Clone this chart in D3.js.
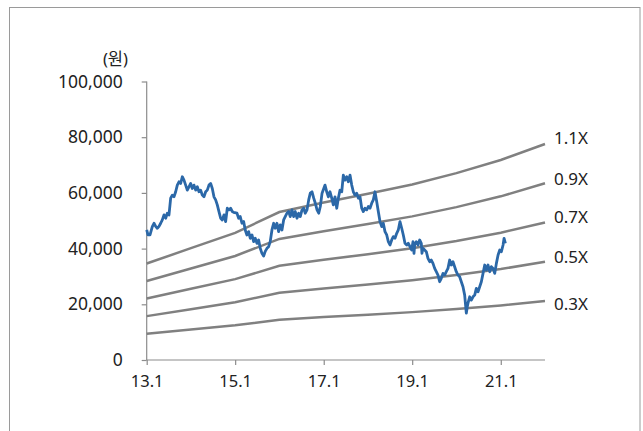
<!DOCTYPE html>
<html>
<head>
<meta charset="utf-8">
<script src="https://cdn.jsdelivr.net/npm/d3@7"></script>
<style>
  html, body { margin: 0; padding: 0; background: #fff; }
  svg { display: block; }
  text { font-family: "Noto Sans", "Noto Sans CJK KR", sans-serif; fill: #222; }
</style>
</head>
<body>
<svg id="chart" width="643" height="431"></svg>
<script>
// Share price (won), by decimal year
const priceYears = [
  2013.000, 2013.029, 2013.075, 2013.127, 2013.165, 2013.203, 2013.240, 2013.278, 2013.316, 2013.353,
  2013.391, 2013.429, 2013.466, 2013.504, 2013.542, 2013.579, 2013.617, 2013.655, 2013.692, 2013.730,
  2013.768, 2013.805, 2013.843, 2013.881, 2013.918, 2013.956, 2013.994, 2014.031, 2014.069, 2014.107,
  2014.144, 2014.182, 2014.220, 2014.257, 2014.295, 2014.333, 2014.370, 2014.408, 2014.446, 2014.483,
  2014.521, 2014.559, 2014.596, 2014.634, 2014.672, 2014.709, 2014.747, 2014.785, 2014.822, 2014.860,
  2014.898, 2014.935, 2014.966, 2015.041, 2015.079, 2015.115, 2015.154, 2015.192, 2015.228, 2015.266,
  2015.305, 2015.341, 2015.380, 2015.418, 2015.454, 2015.493, 2015.531, 2015.567, 2015.606, 2015.644,
  2015.680, 2015.719, 2015.757, 2015.793, 2015.832, 2015.870, 2015.906, 2015.945, 2015.983, 2016.019,
  2016.058, 2016.096, 2016.132, 2016.171, 2016.209, 2016.245, 2016.284, 2016.322, 2016.358, 2016.397,
  2016.435, 2016.471, 2016.510, 2016.548, 2016.584, 2016.623, 2016.661, 2016.697, 2016.736, 2016.774,
  2016.810, 2016.849, 2016.887, 2016.923, 2016.962, 2017.029, 2017.068, 2017.104, 2017.142, 2017.181,
  2017.217, 2017.255, 2017.294, 2017.330, 2017.368, 2017.407, 2017.443, 2017.481, 2017.520, 2017.556,
  2017.594, 2017.633, 2017.669, 2017.707, 2017.746, 2017.782, 2017.820, 2017.859, 2017.895, 2017.933,
  2017.972, 2018.008, 2018.046, 2018.085, 2018.121, 2018.159, 2018.198, 2018.234, 2018.272, 2018.311,
  2018.347, 2018.385, 2018.424, 2018.460, 2018.498, 2018.537, 2018.573, 2018.611, 2018.650, 2018.686,
  2018.724, 2018.763, 2018.799, 2018.837, 2018.876, 2018.912, 2018.950, 2018.989, 2019.018, 2019.041,
  2019.056, 2019.093, 2019.131, 2019.169, 2019.206, 2019.221, 2019.244, 2019.282, 2019.319, 2019.357,
  2019.395, 2019.432, 2019.470, 2019.508, 2019.545, 2019.583, 2019.621, 2019.658, 2019.696, 2019.734,
  2019.771, 2019.809, 2019.847, 2019.884, 2019.922, 2019.960, 2019.997, 2020.035, 2020.073, 2020.110,
  2020.148, 2020.186, 2020.223, 2020.245, 2020.261, 2020.299, 2020.336, 2020.374, 2020.412, 2020.449,
  2020.487, 2020.525, 2020.562, 2020.600, 2020.638, 2020.675, 2020.713, 2020.751, 2020.788, 2020.826,
  2020.864, 2020.901, 2020.939, 2020.977, 2021.014, 2021.052, 2021.075, 2021.104
];
const priceValues = [
  46700, 44900, 44900, 47900, 49100, 48000, 47300, 48000, 49100, 50300,
  52100, 50900, 52700, 52100, 58100, 59200, 58600, 60400, 62800, 64000,
  63400, 65800, 64600, 62800, 61000, 62200, 63400, 61600, 62800, 61000,
  62200, 60400, 61000, 59200, 58600, 60400, 61000, 62800, 63400, 61600,
  58600, 57500, 55700, 53300, 50900, 50300, 52100, 49700, 54500, 53900,
  54500, 53300, 53000, 52700, 50900, 51500, 49100, 49700, 46700, 44900,
  46100, 43700, 44900, 42500, 43700, 41900, 43100, 40100, 38300, 37300,
  39000, 40100, 40700, 42500, 46700, 49100, 47300, 49100, 46100, 48500,
  46700, 50300, 51500, 52700, 53300, 51500, 53900, 51500, 53300, 50900,
  52700, 51500, 53900, 54500, 52700, 53900, 57500, 59900, 60400, 58100,
  56300, 53900, 52700, 55100, 59900, 62800, 60400, 58600, 60400, 58100,
  55700, 58600, 54500, 58100, 61000, 60400, 66400, 64600, 65800, 64000,
  66400, 62800, 60400, 59200, 59900, 58100, 58600, 54500, 53300, 54500,
  53900, 55100, 54500, 56300, 57500, 60400, 56800, 53300, 49700, 47900,
  49100, 46100, 44900, 42500, 41300, 43100, 44300, 43700, 45500, 46700,
  49700, 47300, 44900, 41900, 41300, 41900, 40700, 39500, 42500, 38300,
  41300, 42500, 41300, 43100, 41900, 38300, 40100, 39500, 38900, 36500,
  35300, 35900, 34700, 32900, 31700, 30500, 28100, 29300, 31100, 30500,
  31700, 32900, 35900, 34100, 35300, 33500, 31700, 30500, 29900, 28100,
  26300, 23300, 16800, 19100, 20400, 22700, 21500, 22700, 23300, 25700,
  24500, 26300, 28100, 31100, 34100, 32300, 34100, 31700, 33500, 32900,
  31100, 34700, 37700, 39500, 38900, 41300, 43700, 41900
];

// Book value per share (won) at the start of each year
const bpsYears = [2013, 2014, 2015, 2016, 2017, 2018, 2019, 2020, 2021, 2022];
const bpsValues = [31500, 36500, 41500, 48300, 51400, 54300, 57300, 61000, 65300, 70500];

// P/B multiples drawn as bands
const multiples = [1.1, 0.9, 0.7, 0.5, 0.3];
const multipleLabels = ["1.1X", "0.9X", "0.7X", "0.5X", "0.3X"];

const yTicks = [0, 20000, 40000, 60000, 80000, 100000];
const xTickYears = [2013, 2015, 2017, 2019, 2021];
const unitLabel = "(원)";

// decimal year -> Date
function toDate(yv) {
  const yr = Math.floor(yv);
  const start = Date.UTC(yr, 0, 1), end = Date.UTC(yr + 1, 0, 1);
  return new Date(start + (yv - yr) * (end - start));
}

const svg = d3.select("#chart");
const plotLeft = 146.7, plotRight = 545, plotTop = 81.5, plotBottom = 360;

// outer frame
svg.append("rect")
  .attr("x", 9.5).attr("y", 7.5).attr("width", 630.5).attr("height", 440)
  .attr("fill", "none").attr("stroke", "#9a9a9a").attr("stroke-width", 1);

const x = d3.scaleUtc()
  .domain([toDate(2013), toDate(2022)])
  .range([plotLeft, plotRight]);
const y = d3.scaleLinear()
  .domain([0, 100000])
  .range([plotBottom, plotTop]);

// axes
const yAxis = svg.append("g")
  .attr("transform", `translate(${plotLeft},0)`)
  .call(d3.axisLeft(y).tickValues(yTicks).tickSize(5).tickPadding(19)
    .tickFormat(d3.format(",")));
const xAxis = svg.append("g")
  .attr("transform", `translate(0,${plotBottom})`)
  .call(d3.axisBottom(x).tickValues(xTickYears.map(toDate)).tickSize(5).tickPadding(10)
    .tickFormat(d3.utcFormat("%y.%-m")));
[yAxis, xAxis].forEach(g => {
  g.selectAll("path, line").attr("stroke", "#8c8c8c").attr("stroke-width", 1.2);
  g.selectAll("text").attr("fill", "#222");
});
yAxis.selectAll("text").attr("font-size", 17.5);
xAxis.selectAll("text").attr("font-size", 16.5);
yAxis.select(".domain").attr("d", `M0,${y(0)}V${y(100000)}`);
xAxis.select(".domain").attr("d", `M${plotLeft},0H${plotRight}`);

svg.append("text")
  .attr("x", 128).attr("y", 65)
  .attr("text-anchor", "end")
  .attr("font-size", 16.5)
  .text(unitLabel);

// P/B band lines
const bpsPts = bpsYears.map((yr, i) => ({ date: toDate(yr), v: bpsValues[i] }));
const bandLine = m => d3.line()
  .x(d => x(d.date))
  .y(d => y(d.v * m));
const labelDy = [-6, -4, -6, -5, 3];
multiples.forEach((m, i) => {
  svg.append("path")
    .datum(bpsPts)
    .attr("d", bandLine(m))
    .attr("fill", "none")
    .attr("stroke", "#808080")
    .attr("stroke-width", 2.5);
  const last = bpsPts[bpsPts.length - 1];
  svg.append("text")
    .attr("x", x(last.date) + 9)
    .attr("y", y(last.v * m) + labelDy[i])
    .attr("dy", "0.35em")
    .attr("font-size", 17)
    .text(multipleLabels[i]);
});

// share price
const pricePts = priceYears.map((yr, i) => ({ date: toDate(yr), v: priceValues[i] }));
svg.append("path")
  .datum(pricePts)
  .attr("d", d3.line().x(d => x(d.date)).y(d => y(d.v)))
  .attr("fill", "none")
  .attr("stroke", "#2b68a8")
  .attr("stroke-width", 2.8)
  .attr("stroke-linejoin", "round");
</script>
</body>
</html>
